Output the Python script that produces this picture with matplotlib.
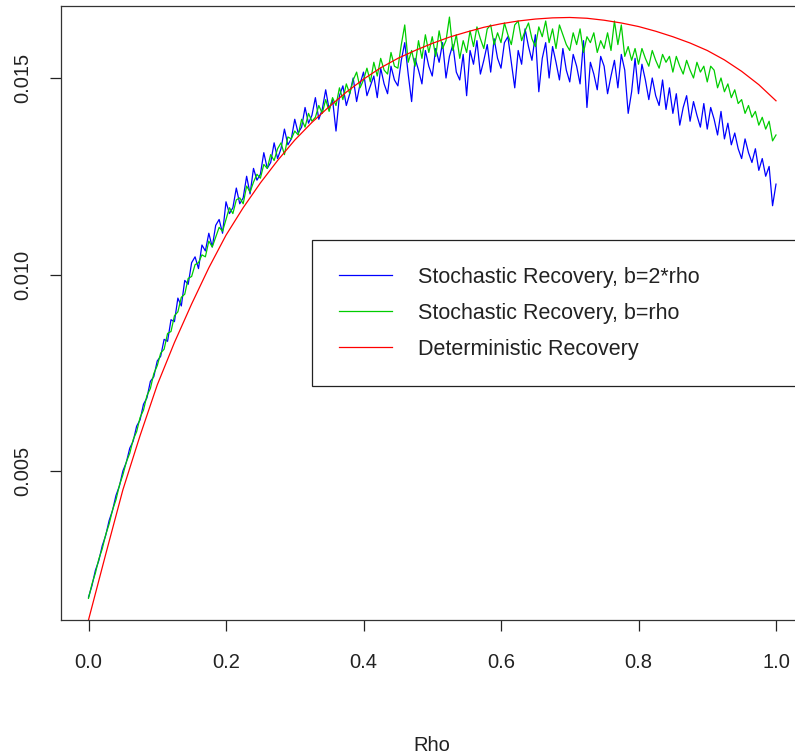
import numpy as np
import matplotlib.pyplot as plt

# rho grid of the noisy series (step 0.005) and of the smooth one (step 0.025)
rho_fine = np.linspace(0, 1, 201)
rho_coarse = np.linspace(0, 1, 41)

# values, in units of 1e-3
blue_e3 = [
    1.79, 2.08, 2.47, 2.72, 3.10, 3.36, 3.74, 4.00, 4.38, 4.62,
    5.00, 5.22, 5.58, 5.76, 6.14, 6.30, 6.70, 6.86, 7.28, 7.40,
    7.80, 7.92, 8.35, 8.30, 8.85, 8.80, 9.40, 9.20, 9.85, 9.75,
    10.30, 10.45, 10.15, 10.75, 10.60, 11.05, 10.70, 11.25, 11.40, 11.05,
    11.85, 11.55, 11.70, 12.20, 11.80, 11.95, 12.50, 12.05, 12.70, 12.40,
    12.55, 13.10, 12.70, 12.85, 13.35, 12.95, 13.20, 13.70, 13.30, 13.45,
    13.95, 13.60, 13.75, 14.25, 13.85, 14.05, 14.50, 13.95, 14.20, 14.70,
    14.20, 14.45, 13.65, 14.55, 14.80, 14.30, 14.60, 15.00, 14.40, 14.85,
    15.15, 14.55, 14.80, 15.05, 14.50, 15.25, 14.85, 14.60, 15.30, 14.95,
    14.80, 15.45, 15.90, 15.10, 14.40, 15.50, 15.20, 14.85, 15.70, 15.30,
    15.05, 15.75, 15.40, 15.90, 15.00, 15.55, 15.85, 15.15, 14.95, 15.60,
    14.55, 15.70, 15.35, 15.95, 15.10, 15.45, 15.85, 15.15, 16.00, 15.50,
    15.25, 15.90, 16.05, 15.40, 14.75, 15.70, 15.35, 16.25, 15.80, 15.45,
    16.10, 14.65, 15.50, 15.90, 15.00, 15.80, 15.40, 14.95, 15.75, 15.20,
    14.90, 15.60, 15.30, 14.85, 15.95, 14.25, 15.40, 15.10, 14.70, 15.55,
    15.30, 14.60, 15.05, 15.45, 14.75, 15.60, 15.20, 14.10, 14.65, 15.50,
    14.60, 15.35, 14.95, 14.45, 15.00, 14.55, 14.30, 14.95, 14.20, 14.75,
    14.10, 14.60, 13.80, 14.25, 14.55, 13.90, 14.40, 14.05, 13.75, 14.35,
    13.70, 14.25, 13.95, 13.55, 14.15, 13.45, 13.85, 13.30, 13.60, 13.20,
    12.95, 13.45, 13.10, 12.85, 13.20, 12.65, 12.95, 12.50, 12.75, 11.75,
    12.30,
]

green_e3 = [
    1.76, 2.12, 2.40, 2.76, 3.02, 3.38, 3.65, 4.01, 4.27, 4.64,
    4.90, 5.23, 5.45, 5.80, 6.00, 6.36, 6.55, 6.92, 7.10, 7.48,
    7.68, 8.00, 8.10, 8.50, 8.55, 8.95, 9.05, 9.42, 9.50, 9.90,
    9.95, 10.25, 10.30, 10.50, 10.45, 10.85, 10.70, 10.95, 11.20, 11.10,
    11.40, 11.70, 11.55, 11.90, 11.95, 11.80, 12.25, 12.10, 12.35, 12.55,
    12.45, 12.80, 12.70, 13.05, 12.90, 13.20, 13.35, 13.05, 13.50, 13.45,
    13.65, 13.55, 13.95, 13.75, 14.10, 13.90, 14.00, 14.30, 14.10, 14.45,
    14.15, 14.50, 14.30, 14.75, 14.45, 14.85, 14.60, 14.95, 15.15, 14.75,
    14.95, 15.25, 14.90, 15.40, 15.05, 15.50, 15.20, 15.10, 15.65, 15.30,
    15.25, 15.85, 16.35, 15.40, 15.70, 15.30, 15.95, 15.50, 16.10, 15.65,
    16.05, 15.55, 16.20, 15.75, 15.95, 16.55, 15.70, 16.10, 15.50, 15.95,
    15.65, 16.20, 15.80, 16.30, 16.00, 15.75, 16.25, 16.35, 15.85, 16.15,
    15.90, 16.40, 16.10, 15.85, 16.35, 16.45, 15.95, 16.20, 16.40, 16.00,
    15.80, 16.30, 16.05, 16.45, 15.90, 16.25, 15.75, 16.35, 16.10, 15.85,
    15.70, 16.15, 15.85, 16.25, 15.65, 16.05, 15.90, 16.15, 15.65, 15.95,
    15.75, 16.15, 15.70, 16.45, 15.85, 16.35, 15.55, 15.80, 15.45, 15.75,
    15.35, 15.75, 15.50, 15.30, 15.70, 15.45, 15.25, 15.60, 15.40, 15.55,
    15.15, 15.55, 15.30, 15.10, 15.45, 15.20, 15.00, 15.40, 15.15, 15.30,
    14.90, 15.30, 15.20, 14.75, 15.00, 14.65, 14.85, 14.50, 14.70, 14.35,
    14.45, 14.10, 14.30, 14.00, 14.15, 13.80, 14.00, 13.70, 13.90, 13.40,
    13.55,
]

red_e3 = [
    1.21, 2.88, 4.52, 5.90, 7.19, 8.27, 9.25, 10.17, 11.00, 11.70,
    12.33, 12.90, 13.42, 13.87, 14.27, 14.64, 14.97, 15.26, 15.50, 15.70,
    15.88, 16.04, 16.17, 16.29, 16.38, 16.45, 16.50, 16.53, 16.54, 16.52,
    16.47, 16.40, 16.31, 16.19, 16.05, 15.89, 15.70, 15.46, 15.17, 14.83,
    14.42,
]

labels = ["Stochastic Recovery, b=2*rho", "Stochastic Recovery, b=rho",
          "Deterministic Recovery"]
colors = ["#0000FF", "#00CD00", "#FF0000"]

blue = np.array(blue_e3) / 1000
green = np.array(green_e3) / 1000
red = np.array(red_e3) / 1000

plt.rcParams['font.family'] = ['Liberation Sans', 'DejaVu Sans']

W, H = 795, 756
fig = plt.figure(figsize=(W / 100, H / 100), dpi=100)
# plot box in pixels: x 61..803.5 (right side falls off the image), y 6..620
ax = fig.add_axes([61 / W, (H - 620) / H, (803.5 - 61) / W, 614 / H])

ax.plot(rho_fine, blue, color=colors[0], lw=0.9, label=labels[0])
ax.plot(rho_fine, green, color=colors[1], lw=0.9, label=labels[1])
ax.plot(rho_coarse, red, color=colors[2], lw=0.9, label=labels[2])

ax.set_xlim(-0.04, 1.04)
ax.set_ylim(0.001209, 0.016832)
ax.set_xticks([0.0, 0.2, 0.4, 0.6, 0.8, 1.0])
ax.set_xticklabels(["0.0", "0.2", "0.4", "0.6", "0.8", "1.0"])
ax.set_yticks([0.005, 0.010, 0.015])
ax.set_yticklabels(["0.005", "0.010", "0.015"], rotation=90, va="center")
ax.tick_params(axis="both", length=8, width=0.9, color="#222222",
               labelsize=14.5, labelcolor="#222222")
ax.tick_params(axis="x", pad=16)
ax.tick_params(axis="y", pad=13)
for s in ax.spines.values():
    s.set_color("#333333")
    s.set_linewidth(0.9)

ax.set_xlabel("Rho", fontsize=14.5, color="#222222", labelpad=46)

leg = ax.legend(loc="upper left", bbox_to_anchor=(0.338, 0.619, 0.662, 0.0),
                mode="expand", borderaxespad=0, fontsize=15.5,
                fancybox=False, edgecolor="#222222", framealpha=1,
                handlelength=2.46, handletextpad=1.2, borderpad=1.25,
                labelspacing=0.69)
leg.get_frame().set_linewidth(0.9)
for t in leg.get_texts():
    t.set_color("#222222")

fig.savefig("out.png", dpi=100)
